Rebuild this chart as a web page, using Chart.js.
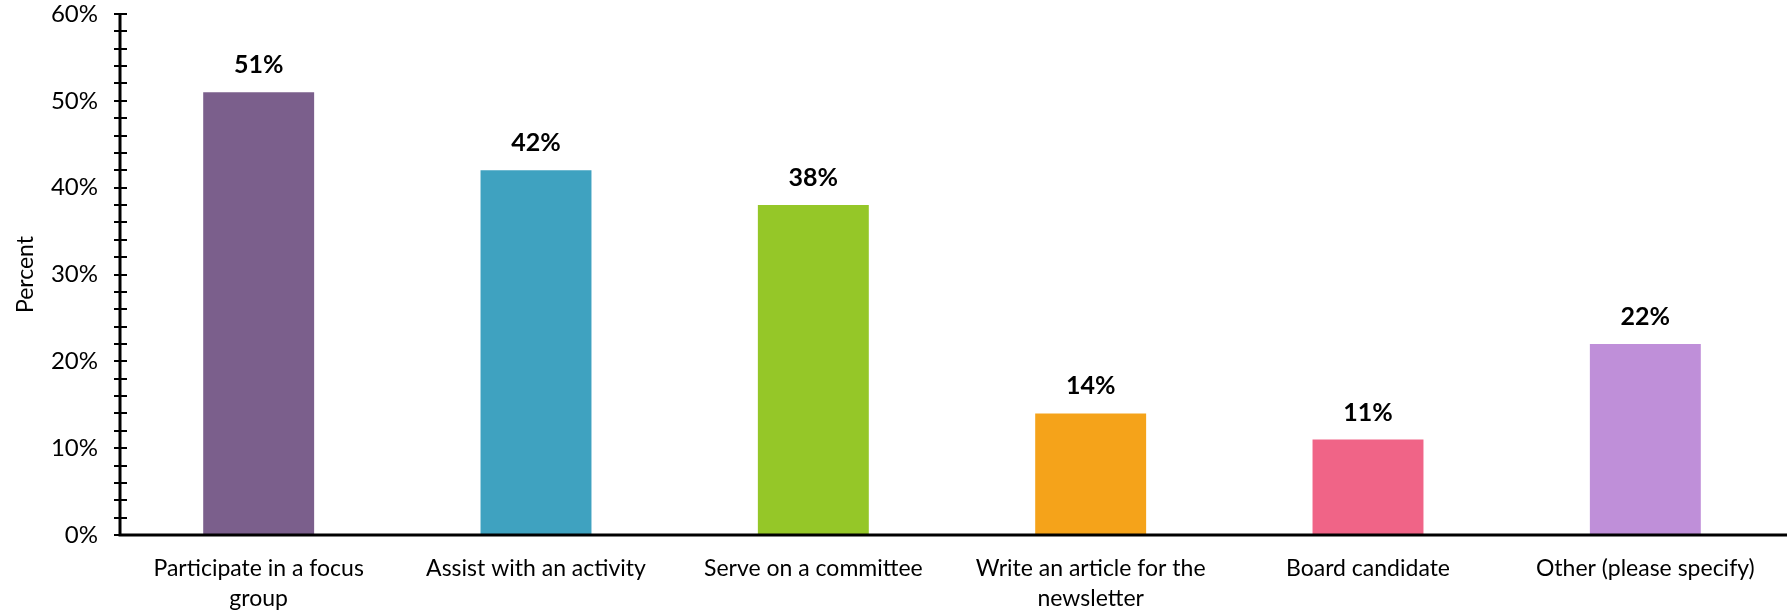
<!DOCTYPE html>
<html>
<head>
<meta charset="utf-8">
<script src="https://cdn.jsdelivr.net/npm/chart.js@4.4.1/dist/chart.umd.min.js"></script>
<style>
  html, body { margin: 0; padding: 0; background: #ffffff; }
  #wrap { width: 1787px; height: 612px; position: relative; }
</style>
</head>
<body>
<div id="wrap"><canvas id="chart"></canvas></div>
<script>
// Volunteer interest by activity
const categories = [
  ["Participate in a focus", "group"],
  "Assist with an activity",
  "Serve on a committee",
  ["Write an article for the", "newsletter"],
  "Board candidate",
  "Other (please specify)"
];
const percentValues = [51, 42, 38, 14, 11, 22];
const barColors = ["#7B5F8C", "#3FA2C0", "#95C728", "#F5A31A", "#F06487", "#BF8FD9"];
const yTickStep = 2;      // minor tick spacing
const yLabelStep = 10;    // labelled tick spacing
const yMax = 60;

const FONT = "Lato, 'Noto Sans', sans-serif";

// Axis lines with ticks crossing the vertical axis
const axisPlugin = {
  id: "axisLines",
  afterDatasetsDraw(chart) {
    const { ctx, chartArea, scales } = chart;
    const y = scales.y;
    const x0 = chartArea.left;
    const yBase = y.getPixelForValue(0);
    ctx.save();
    ctx.strokeStyle = "#000";
    ctx.lineWidth = 3;
    ctx.beginPath();
    ctx.moveTo(x0, y.getPixelForValue(yMax) - 1);
    ctx.lineTo(x0, yBase);
    ctx.lineTo(chart.width, yBase);
    ctx.stroke();
    ctx.lineWidth = 2;
    y.ticks.forEach(t => {
      const py = Math.round(y.getPixelForValue(t.value));
      ctx.beginPath();
      ctx.moveTo(x0 - 6, py);
      ctx.lineTo(x0 + 7, py);
      ctx.stroke();
    });
    ctx.restore();
  }
};

// Value labels above bars
const valueLabelPlugin = {
  id: "valueLabels",
  afterDatasetsDraw(chart) {
    const { ctx } = chart;
    const meta = chart.getDatasetMeta(0);
    ctx.save();
    ctx.font = "bold 25px " + FONT;
    ctx.fillStyle = "#000";
    ctx.textAlign = "center";
    ctx.textBaseline = "middle";
    meta.data.forEach((bar, i) => {
      ctx.fillText(percentValues[i] + "%", bar.x, bar.y - 27);
    });
    ctx.restore();
  }
};

new Chart(document.getElementById("chart"), {
  type: "bar",
  data: {
    labels: categories,
    datasets: [{
      data: percentValues,
      backgroundColor: barColors,
      borderWidth: 0,
      categoryPercentage: 1.0,
      barPercentage: 0.4
    }]
  },
  options: {
    responsive: true,
    maintainAspectRatio: false,
    animation: false,
    layout: { padding: { top: 14, right: 3, left: 4, bottom: 0 } },
    plugins: { legend: { display: false }, tooltip: { enabled: false } },
    scales: {
      x: {
        grid: { display: false, drawTicks: false },
        border: { display: false },
        afterFit(s) { s.height = 77; s.paddingLeft = 0; s.paddingRight = 0; },
        ticks: {
          color: "#000",
          font: { family: FONT, size: 23, lineHeight: 1.33 },
          padding: 18,
          maxRotation: 0,
          autoSkip: false
        }
      },
      y: {
        min: 0,
        max: yMax,
        grid: { display: false, drawTicks: false },
        border: { display: false },
        afterFit(s) { s.width = 116; s.paddingTop = 0; s.paddingBottom = 0; },
        title: {
          display: true,
          text: "Percent",
          color: "#000",
          font: { family: FONT, size: 23 },
          padding: { top: 8, bottom: 14 }
        },
        ticks: {
          stepSize: yTickStep,
          color: "#000",
          font: { family: FONT, size: 24 },
          padding: 22,
          autoSkip: false,
          callback: v => (v % yLabelStep === 0 ? v + "%" : "")
        }
      }
    }
  },
  plugins: [axisPlugin, valueLabelPlugin]
});
</script>
</body>
</html>
